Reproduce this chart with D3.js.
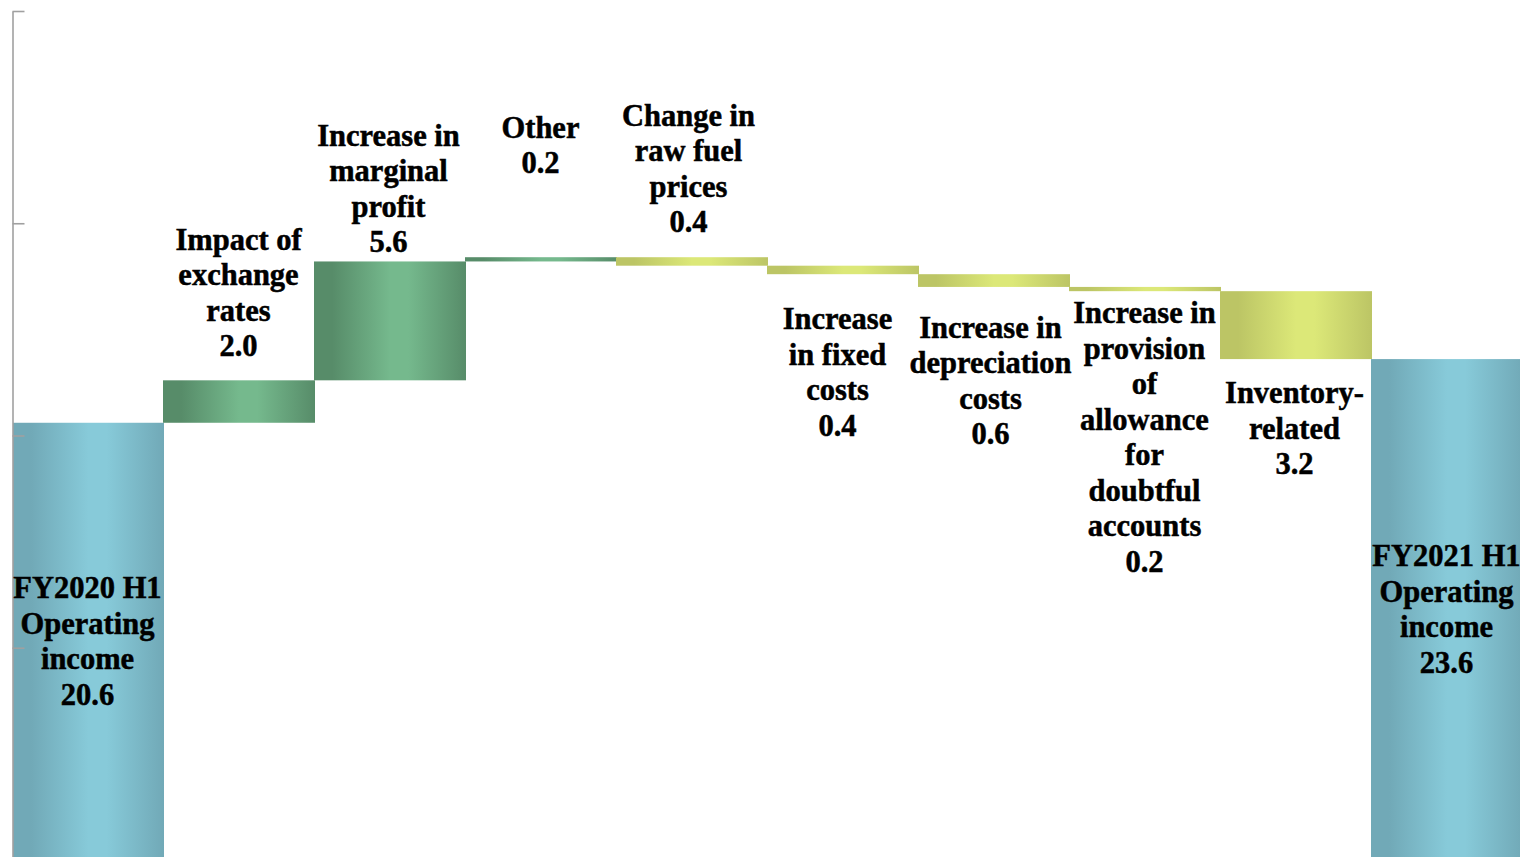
<!DOCTYPE html>
<html>
<head>
<meta charset="utf-8">
<script src="https://cdn.jsdelivr.net/npm/d3@7"></script>
<style>
  html, body { margin: 0; padding: 0; background: #fff; overflow: hidden; }
  svg { display: block; }
  .label { font-family: "Liberation Serif", "Times New Roman", Times, serif; font-weight: bold; font-size: 30.5px; fill: #000; stroke: #000; stroke-width: 0.5px; }
</style>
</head>
<body>
<div id="vis"></div>
<script>
const WIDTH = 1520;
const HEIGHT = 857;

// data
const CATEGORIES = [
    ["FY2020 H1", "Operating", "income"],
    ["Impact of", "exchange", "rates"],
    ["Increase in", "marginal", "profit"],
    ["Other"],
    ["Change in", "raw fuel", "prices"],
    ["Increase", "in fixed", "costs"],
    ["Increase in", "depreciation", "costs"],
    ["Increase in", "provision", "of", "allowance", "for", "doubtful", "accounts"],
    ["Inventory-", "related"],
    ["FY2021 H1", "Operating", "income"]
];
const VALUES = [20.6, 2.0, 5.6, 0.2, -0.4, -0.4, -0.6, -0.2, -3.2, 23.6];
const KINDS = ["total", "up", "up", "up", "down", "down", "down", "down", "down", "total"];
const Y_TICKS = [0, 10, 20, 30, 40];

// label placement: side of bar and gap in px
const LABEL_SIDE = ["in", "above", "above", "above", "above", "below", "below", "below", "below", "in"];
const LABEL_GAP = [0, 24, 9, 84, 25, 55, 51, 32, 44, 0];
const LABEL_SHIFT = [0, 0, -1, 0, -3, -5, -3, 0, -1, 0];
const LINE_H = 35.5;

const COLORS = {
    total: ["#71a9b7", "#87cad9"],
    up: ["#578c69", "#75b98d"],
    down: ["#bcc565", "#dce878"]
};

const FRAME = d3.select("#vis")
    .append("svg")
        .attr("width", WIDTH)
        .attr("height", HEIGHT);

const defs = FRAME.append("defs");
Object.keys(COLORS).forEach((k) => {
    const g = defs.append("linearGradient")
        .attr("id", "grad-" + k)
        .attr("x1", "0%").attr("x2", "100%")
        .attr("y1", "0%").attr("y2", "0%");
    g.append("stop").attr("offset", "0%").attr("stop-color", COLORS[k][0]);
    g.append("stop").attr("offset", "12%").attr("stop-color", COLORS[k][0]);
    g.append("stop").attr("offset", "50%").attr("stop-color", COLORS[k][1]);
    g.append("stop").attr("offset", "62%").attr("stop-color", COLORS[k][1]);
    g.append("stop").attr("offset", "100%").attr("stop-color", COLORS[k][0]);
});

// build waterfall rows
let running = 0;
const rows = VALUES.map((v, i) => {
    let lo, hi;
    if (KINDS[i] === "total") {
        lo = 0; hi = v; running = v;
    } else {
        const next = running + v;
        lo = Math.min(running, next); hi = Math.max(running, next);
        running = next;
    }
    return {i: i, lo: lo, hi: hi, value: v, kind: KINDS[i], lines: CATEGORIES[i]};
});

const X_SCALE = d3.scaleBand()
    .domain(d3.range(VALUES.length))
    .range([12, 1522])
    .padding(0);

const Y_SCALE = d3.scaleLinear()
    .domain([0, 40])
    .range([860, 11]);

FRAME.selectAll(".bar")
    .data(rows)
    .enter()
    .append("rect")
        .attr("class", "bar")
        .attr("x", (d) => X_SCALE(d.i) + (d.i === 0 ? 1 : 0))
        .attr("y", (d) => Y_SCALE(d.hi))
        .attr("width", (d) => X_SCALE.bandwidth() + 1 - (d.i === 0 ? 1 : 0))
        .attr("height", (d) => Y_SCALE(d.lo) - Y_SCALE(d.hi))
        .attr("fill", (d) => "url(#grad-" + d.kind + ")");

// axis with inward ticks, no labels
const axis = FRAME.append("g")
    .attr("transform", "translate(12.5,0)")
    .call(d3.axisLeft(Y_SCALE).tickValues(Y_TICKS).tickSize(-12).tickSizeOuter(0).tickFormat(""));
axis.select(".domain").attr("stroke", "#a0a0a0").attr("stroke-width", 1.6);
axis.selectAll(".tick line").attr("stroke", "#a0a0a0").attr("stroke-width", 1.6);

const fmt = d3.format(".1f");

const labels = FRAME.selectAll(".label")
    .data(rows)
    .enter()
    .append("text")
        .attr("class", "label")
        .attr("text-anchor", "middle")
        .attr("x", (d) => X_SCALE(d.i) + X_SCALE.bandwidth() / 2 + LABEL_SHIFT[d.i])
        .attr("y", (d) => {
            const all = d.lines.length + 1;
            const top = Y_SCALE(d.hi), bot = Y_SCALE(d.lo);
            const side = LABEL_SIDE[d.i], gap = LABEL_GAP[d.i];
            if (side === "in") {
                return (top + bot) / 2 - (all - 1) * LINE_H / 2 + 10;
            } else if (side === "above") {
                return top - gap - (all - 1) * LINE_H;
            }
            return bot + gap;
        });

labels.each(function(d) {
    const t = d3.select(this);
    const x = t.attr("x");
    d.lines.concat([fmt(Math.abs(d.value))]).forEach((ln, k) => {
        t.append("tspan")
            .attr("x", x)
            .attr("dy", k === 0 ? 0 : LINE_H)
            .text(ln);
    });
});
</script>
</body>
</html>
